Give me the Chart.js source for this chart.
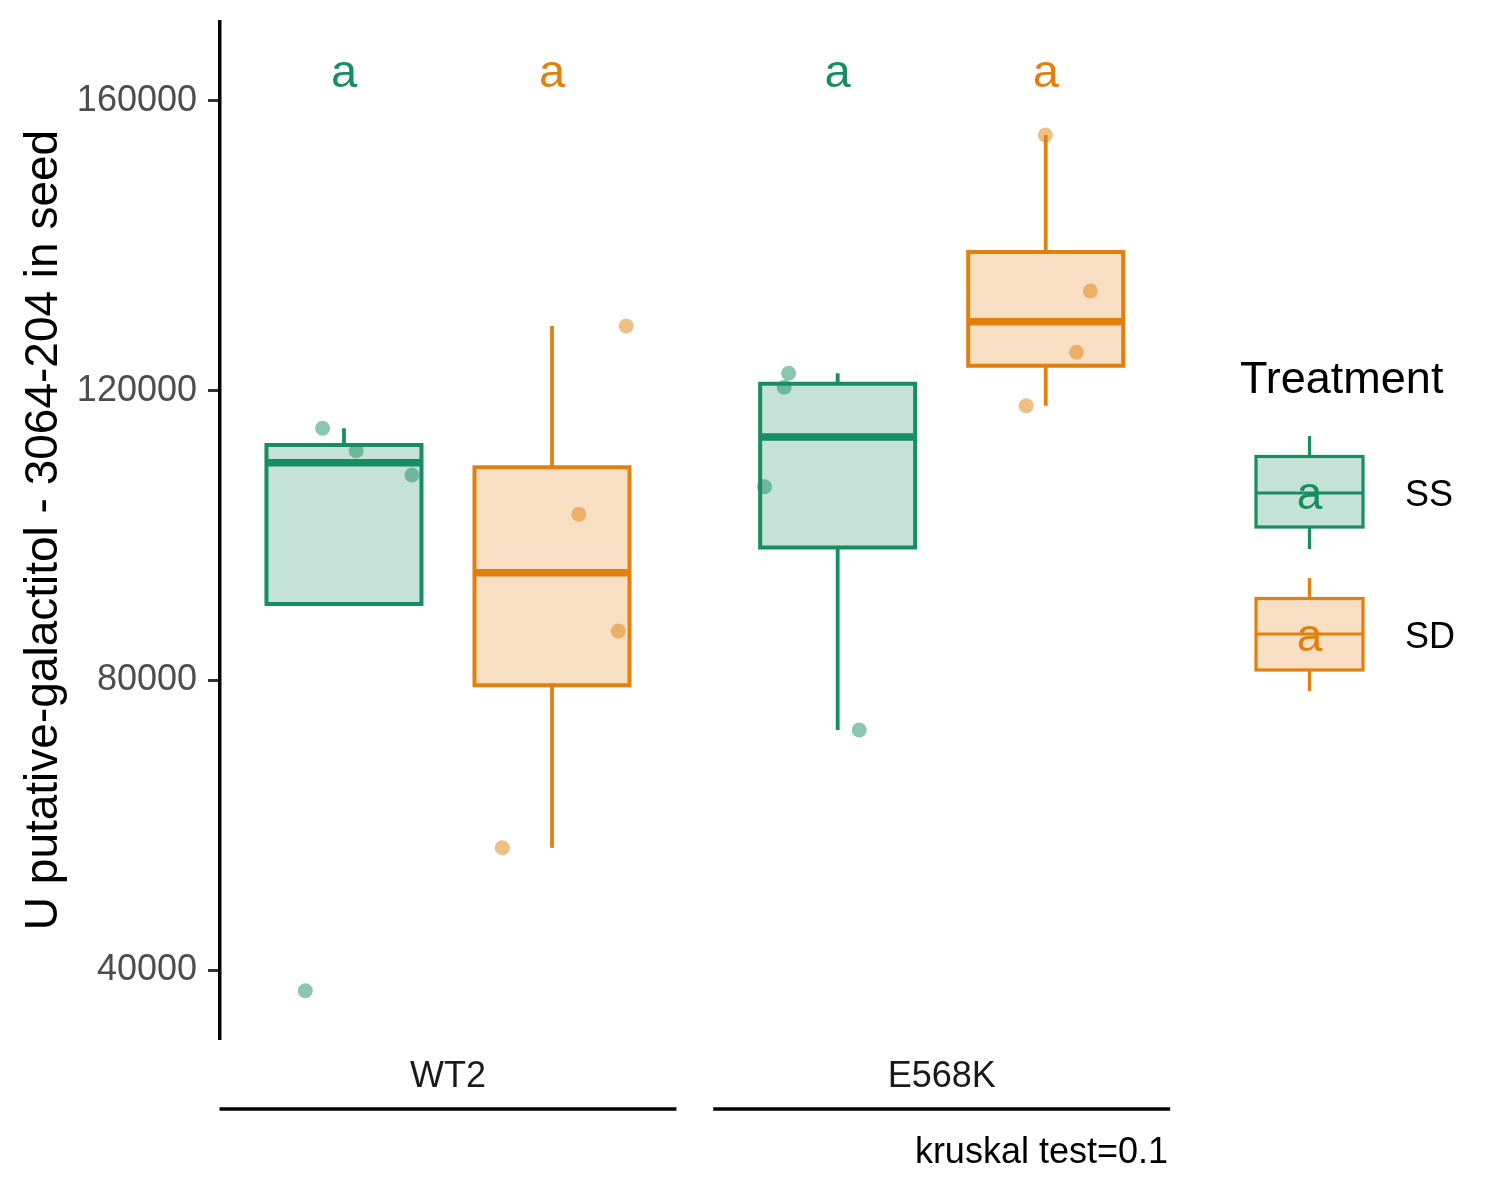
<!DOCTYPE html>
<html>
<head>
<meta charset="utf-8">
<script src="https://cdn.jsdelivr.net/npm/chart.js@4.4.1/dist/chart.umd.min.js"></script>
<style>
  html, body { margin: 0; padding: 0; background: #fff; }
  #wrap { width: 1500px; height: 1200px; }
</style>
</head>
<body>
<div id="wrap"><canvas id="chart" width="1500" height="1200"></canvas></div>
<script>
// --- DATA ---
const groups = ['WT2', 'E568K'];
const groupPos = [1, 2];
const treatments = ['SS', 'SD'];
const yTicks = [40000, 80000, 120000, 160000];
const letters = { SS: ['a', 'a'], SD: ['a', 'a'] };
const testLabel = 'kruskal test=0.1';
const yTitle = 'U putative-galactitol - 3064-204 in seed';

// box statistics, one entry per genotype
const ssLow = [null, 73141];
const ssQ1 = [90551, 98340];
const ssMed = [110032, 113602];
const ssQ3 = [112483, 120948];
const ssHigh = [114803, 122398];

const sdLow = [56888, 117924];
const sdQ1 = [79331, 123455];
const sdMed = [94870, 129531];
const sdQ3 = [109428, 139149];
const sdHigh = [128930, 155305];

// jittered points (x in axis units, y values)
const ssPointX = [[0.711, 0.746, 0.814, 0.927], [1.641, 1.681, 1.690, 1.833]];
const ssPointY = [[37143, 114803, 111710, 108354], [106739, 120465, 122398, 73141]];
const sdPointX = [[1.110, 1.265, 1.345, 1.361], [2.171, 2.210, 2.273, 2.301]];
const sdPointY = [[56888, 102927, 86812, 128930], [117924, 155305, 125298, 133763]];

// --- STYLE ---
const FONT = "'Liberation Sans', Arial, Helvetica, sans-serif";
const rgb = { SS: [23, 141, 98], SD: [226, 128, 14] };
const dodge = { SS: -0.2107, SD: 0.2107 };
const halfWidth = 0.157;
const letterLevel = 162000;

function col(t, a) {
  const c = rgb[t];
  return a === undefined ? `rgb(${c[0]},${c[1]},${c[2]})` : `rgba(${c[0]},${c[1]},${c[2]},${a})`;
}

const stats = {
  SS: { lo: ssLow, q1: ssQ1, med: ssMed, q3: ssQ3, hi: ssHigh, px: ssPointX, py: ssPointY },
  SD: { lo: sdLow, q1: sdQ1, med: sdMed, q3: sdQ3, hi: sdHigh, px: sdPointX, py: sdPointY }
};

// --- DATASETS ---
const datasets = [];
treatments.forEach(t => {
  const s = stats[t];
  groups.forEach((g, gi) => {
    const cx = groupPos[gi] + dodge[t];
    const l = cx - halfWidth, r = cx + halfWidth;

    datasets.push({
      label: t + ' ' + g + ' box', order: 3, showLine: true, fill: 'shape',
      data: [{ x: l, y: s.q1[gi] }, { x: r, y: s.q1[gi] }, { x: r, y: s.q3[gi] }, { x: l, y: s.q3[gi] }, { x: l, y: s.q1[gi] }],
      backgroundColor: col(t, 0.25), borderColor: col(t), borderWidth: 4,
      borderCapStyle: 'square', pointRadius: 0
    });

    datasets.push({
      label: t + ' ' + g + ' whiskers', order: 2, showLine: true, spanGaps: false,
      data: [{ x: cx, y: s.q3[gi] }, { x: cx, y: s.hi[gi] }, { x: cx, y: null },
             { x: cx, y: s.lo[gi] === null ? null : s.q1[gi] }, { x: cx, y: s.lo[gi] }],
      borderColor: col(t), borderWidth: 3.8, pointRadius: 0
    });

    datasets.push({
      label: t + ' ' + g + ' median', order: 1, showLine: true,
      data: [{ x: l, y: s.med[gi] }, { x: r, y: s.med[gi] }],
      borderColor: col(t), borderWidth: 7.5, pointRadius: 0
    });

    datasets.push({
      label: t + ' ' + g + ' points', order: 0,
      data: s.px[gi].map((x, i) => ({ x: x, y: s.py[gi][i] })),
      backgroundColor: col(t, 0.5), borderWidth: 0, pointRadius: 7.5
    });
  });
});

// --- ANNOTATIONS: letters, genotype strips, test label, legend ---
const annotations = {
  id: 'annotations',
  afterDraw(chart) {
    const ctx = chart.ctx;
    const xs = chart.scales.x, ys = chart.scales.y;
    ctx.save();

    // significance letters
    ctx.font = `47px ${FONT}`;
    ctx.textAlign = 'center';
    ctx.textBaseline = 'alphabetic';
    treatments.forEach(t => {
      groups.forEach((g, gi) => {
        ctx.fillStyle = col(t);
        ctx.fillText(letters[t][gi], xs.getPixelForValue(groupPos[gi] + dodge[t]), ys.getPixelForValue(letterLevel));
      });
    });

    // genotype labels with underline
    ctx.font = `36px ${FONT}`;
    ctx.fillStyle = '#1a1a1a';
    ctx.strokeStyle = '#000';
    ctx.lineWidth = 3.5;
    groups.forEach((g, gi) => {
      const c = xs.getPixelForValue(groupPos[gi]);
      ctx.fillText(g, c, 1087);
      ctx.beginPath();
      ctx.moveTo(xs.getPixelForValue(groupPos[gi] - 0.4628), 1109);
      ctx.lineTo(xs.getPixelForValue(groupPos[gi] + 0.4628), 1109);
      ctx.stroke();
    });

    ctx.textAlign = 'right';
    ctx.fillStyle = '#000';
    ctx.fillText(testLabel, chart.chartArea.right, 1163);

    // legend
    ctx.textAlign = 'left';
    ctx.font = `45px ${FONT}`;
    ctx.fillText('Treatment', 1240, 393);
    const keys = [
      { t: 'SS', wt: 436, top: 456.5, med: 493, bot: 527, wb: 549, text: 506 },
      { t: 'SD', wt: 578, top: 598.5, med: 634, bot: 670, wb: 691, text: 648 }
    ];
    keys.forEach(k => {
      const l = 1256, r = 1363, c = 1309.5;
      ctx.lineWidth = 3.2;
      ctx.strokeStyle = col(k.t);
      ctx.fillStyle = col(k.t, 0.25);
      ctx.beginPath();
      ctx.moveTo(c, k.wt); ctx.lineTo(c, k.top);
      ctx.moveTo(c, k.bot); ctx.lineTo(c, k.wb);
      ctx.stroke();
      ctx.fillRect(l, k.top, r - l, k.bot - k.top);
      ctx.strokeRect(l, k.top, r - l, k.bot - k.top);
      ctx.beginPath();
      ctx.moveTo(l, k.med); ctx.lineTo(r, k.med);
      ctx.stroke();
      ctx.font = `46px ${FONT}`;
      ctx.textAlign = 'center';
      ctx.fillStyle = col(k.t);
      ctx.fillText('a', c, k.text + 3);
      ctx.font = `36px ${FONT}`;
      ctx.textAlign = 'left';
      ctx.fillStyle = '#000';
      ctx.fillText(k.t, 1405, k.text);
    });

    ctx.restore();
  }
};

// --- CHART ---
const ctx = document.getElementById('chart').getContext('2d');
const chart = new Chart(ctx, {
  type: 'scatter',
  data: { datasets: datasets },
  options: {
    responsive: false,
    animation: false,
    devicePixelRatio: 1,
    layout: { padding: { left: 0, right: 332, top: 22, bottom: 162 } },
    plugins: { legend: { display: false }, tooltip: { enabled: false } },
    scales: {
      x: { type: 'linear', min: 0.5382, max: 2.4584, display: false },
      y: {
        type: 'linear', min: 30610, max: 170909,
        afterFit(scale) {
          scale.width = 220;
          scale.paddingTop = 0;
          scale.paddingBottom = 0;
        },
        afterBuildTicks(scale) { scale.ticks = yTicks.map(v => ({ value: v })); },
        ticks: {
          font: { size: 36, family: FONT }, color: '#4D4D4D', padding: 11,
          callback: v => String(v)
        },
        grid: { drawOnChartArea: false, drawTicks: true, tickLength: 12, color: '#333', lineWidth: 3 },
        border: { display: true, color: '#000', width: 3.5 },
        title: {
          display: true, text: yTitle, color: '#000',
          font: { size: 46, family: FONT, lineHeight: 1.2 },
          padding: { top: 17, bottom: 0 }
        }
      }
    }
  },
  plugins: [annotations]
});
</script>
</body>
</html>
